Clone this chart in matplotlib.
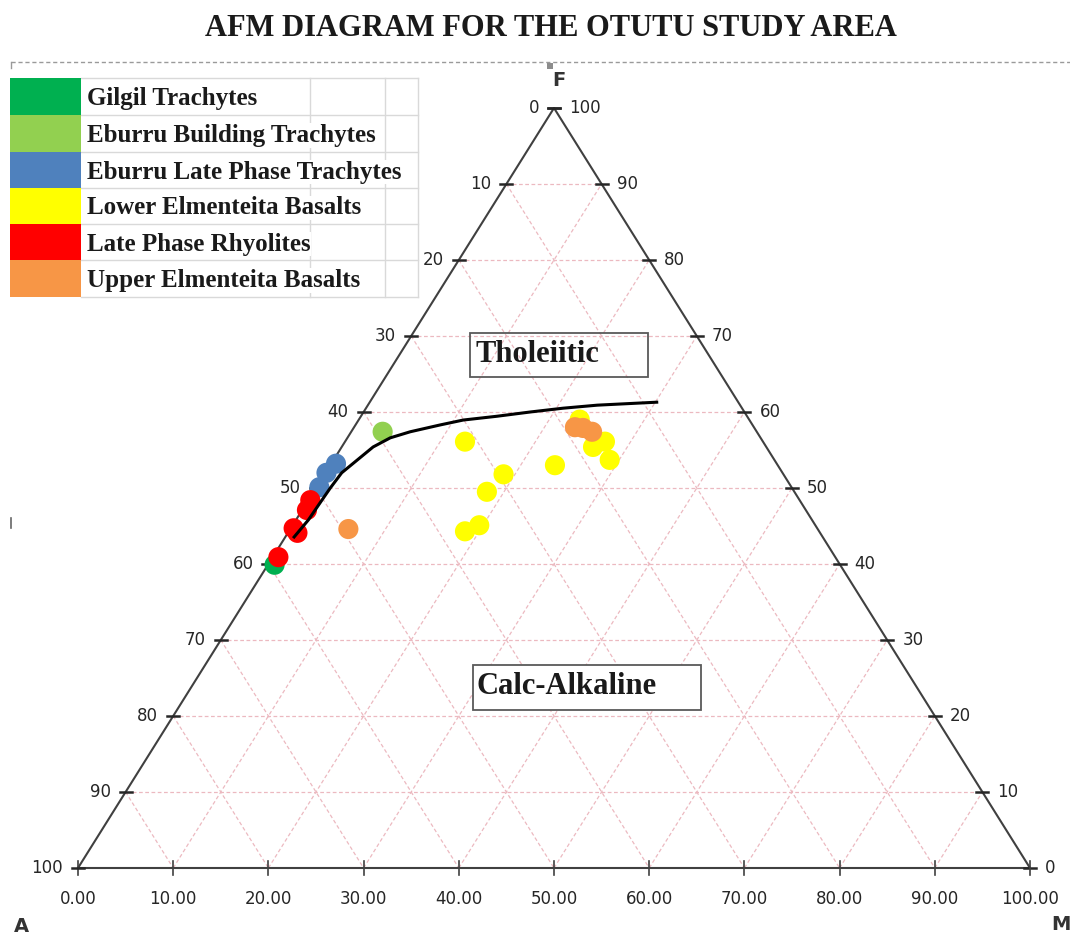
"""
AFM ternary diagram (A = Na2O+K2O, F = FeOt, M = MgO) for the Otutu samples
"""

import matplotlib.pyplot as plt
from matplotlib.patches import Rectangle

# sample compositions, percent A / F / M
groups = [
    "Gilgil Trachytes",
    "Eburru Building Trachytes",
    "Eburru Late Phase Trachytes",
    "Lower Elmenteita Basalts",
    "Late Phase Rhyolites",
    "Upper Elmenteita Basalts",
]
colors = ["#00b050", "#92d050", "#4f81bd", "#ffff00", "#ff0000", "#f79646"]

gilgil_A = [59.4]
gilgil_F = [39.9]
gilgil_M = [0.7]

eb_build_A = [39.3]
eb_build_F = [57.4]
eb_build_M = [3.3]

eb_late_A = [46.3, 47.9, 49.6]
eb_late_F = [53.2, 52.0, 50.1]
eb_late_M = [0.5, 0.1, 0.3]

lower_A = [31.3, 29.4, 32.3, 35.3, 37.2, 23.4, 17.3, 18.2, 16.6, 17.8]
lower_F = [56.1, 51.8, 49.5, 45.1, 44.3, 53.0, 53.7, 55.4, 56.1, 59.0]
lower_M = [12.6, 18.8, 18.2, 19.6, 18.5, 23.6, 29.0, 26.4, 27.3, 23.2]

rhyo_A = [51.4, 52.4, 55.0, 54.9, 58.5]
rhyo_F = [48.4, 47.1, 44.7, 44.1, 40.9]
rhyo_M = [0.2, 0.5, 0.3, 1.0, 0.6]

upper_A = [49.3, 18.8, 18.0, 17.3]
upper_F = [44.6, 58.0, 57.9, 57.4]
upper_M = [6.1, 23.2, 24.1, 25.3]

# tholeiitic / calc-alkaline dividing line
div_A = [55.7, 52.9, 50.6, 48.5, 46.3, 43.8, 41.3, 38.9, 36.4, 32.8, 30.1,
         26.3, 22.5, 18.8, 15.0, 11.7, 8.4]
div_F = [43.4, 45.8, 48.0, 50.0, 52.0, 53.7, 55.4, 56.6, 57.4, 58.3, 59.0,
         59.5, 60.0, 60.5, 60.9, 61.1, 61.3]
div_M = [0.9, 1.3, 1.4, 1.5, 1.7, 2.5, 3.3, 4.5, 6.2, 8.9, 11.0,
         14.3, 17.5, 20.7, 24.1, 27.2, 30.3]

ticks = [0, 10, 20, 30, 40, 50, 60, 70, 80, 90, 100]


def to_xy(a, f, m):
    """Ternary (A, F, M) -> plot x, y. A at left, M at right, F on top."""
    xs, ys = [], []
    for ai, fi, mi in zip(a, f, m):
        s = ai + fi + mi
        fi, mi = fi * 100.0 / s, mi * 100.0 / s
        xs.append(mi + fi / 2.0)
        ys.append(fi)
    return xs, ys


fig = plt.figure(figsize=(10.7, 9.38), dpi=100)
W, H = 1070, 938

# triangle axes: x 0..100 spans px 78..1030, y (F) 0..100 spans px 868..108
ax = fig.add_axes([78 / W, 70 / H, 952 / W, 760 / H])
ax.set_xlim(0, 100)
ax.set_ylim(0, 100)
ax.axis("off")

# pink grid parallel to the three sides
grid_kw = dict(color="#ecb9c0", lw=0.9, ls=(0, (3, 2)), zorder=1)
for v in ticks[1:-1]:
    x, y = to_xy([100 - v, 0], [v, v], [0, 100 - v])
    ax.plot(x, y, **grid_kw)
    x, y = to_xy([v, v], [100 - v, 0], [0, 100 - v])
    ax.plot(x, y, **grid_kw)
    x, y = to_xy([100 - v, 0], [0, 100 - v], [v, v])
    ax.plot(x, y, **grid_kw)

# triangle outline
x, y = to_xy([100, 0, 0, 100], [0, 0, 100, 0], [0, 100, 0, 0])
ax.plot(x, y, color="#404040", lw=1.5, zorder=2, clip_on=False)

lab_kw = dict(textcoords="offset pixels", fontsize=12, color="#262626",
              annotation_clip=False)
dx = 6 / 9.52
dy = 7 / 7.6
for v in ticks:
    # left side: A
    x, y = to_xy([v], [100 - v], [0])
    ax.plot([x[0] - dx, x[0] + dx], [y[0], y[0]], color="#262626", lw=1.8,
            clip_on=False, zorder=3)
    ax.annotate(str(v), (x[0], y[0]), xytext=(-15, 0), ha="right", va="center", **lab_kw)
    # right side: F
    x, y = to_xy([0], [v], [100 - v])
    ax.plot([x[0] - dx, x[0] + dx], [y[0], y[0]], color="#262626", lw=1.8,
            clip_on=False, zorder=3)
    ax.annotate(str(v), (x[0], y[0]), xytext=(15, 0), ha="left", va="center", **lab_kw)
    # base: M
    x, y = to_xy([100 - v], [0], [v])
    ax.plot([x[0], x[0]], [-dy, dy], color="#404040", lw=1.2, clip_on=False, zorder=3)
    ax.annotate("%.2f" % v, (x[0], 0), xytext=(0, -31), ha="center", va="center", **lab_kw)

# samples
data = [
    (gilgil_A, gilgil_F, gilgil_M),
    (eb_build_A, eb_build_F, eb_build_M),
    (eb_late_A, eb_late_F, eb_late_M),
    (lower_A, lower_F, lower_M),
    (rhyo_A, rhyo_F, rhyo_M),
    (upper_A, upper_F, upper_M),
]
for i, (a, f, m) in enumerate(data):
    x, y = to_xy(a, f, m)
    ax.scatter(x, y, s=210, color=colors[i], edgecolors="none", zorder=4 + i,
               clip_on=False)

x, y = to_xy(div_A, div_F, div_M)
ax.plot(x, y, color="black", lw=2.2, zorder=12, solid_capstyle="butt",
        solid_joinstyle="round")

# overlay in pixel coordinates for title, legend table and labels
ov = fig.add_axes([0, 0, 1, 1])
ov.set_xlim(0, W)
ov.set_ylim(H, 0)
ov.axis("off")
ov.patch.set_alpha(0)

serif = "Liberation Serif"
ov.text(551, 28, "AFM DIAGRAM FOR THE OTUTU STUDY AREA", ha="center", va="center",
        fontsize=22, fontweight="bold", family=serif, color="#1a1a1a")

# dashed plot-area border at the top
ov.plot([11, W], [62, 62], color="#9a9a9a", lw=1, ls=(0, (3, 2)))
ov.plot([11, 11], [62, 68], color="#9a9a9a", lw=1)
ov.plot([11, 11], [518, 528], color="#666666", lw=1.2)
ov.add_patch(Rectangle((547, 63), 6, 6, color="#8c8c8c", lw=0))

# vertex labels
vert_kw = dict(fontsize=14, fontweight="bold", color="#333333", ha="center", va="center")
ov.text(559, 80, "F", **vert_kw)
ov.text(21, 927, "A", **vert_kw)
ov.text(1061, 925, "M", **vert_kw)

# legend laid out like a spreadsheet block
rows = [78, 115, 152, 188, 224, 260, 297]
for yv in rows:
    ov.plot([81, 418], [yv, yv], color="#d9d9d9", lw=1, zorder=1)
for xv in [310, 385, 418]:
    ov.plot([xv, xv], [rows[0], rows[-1]], color="#d9d9d9", lw=1, zorder=1)
for i, name in enumerate(groups):
    top, bot = rows[i], rows[i + 1]
    ov.add_patch(Rectangle((10, top), 71, bot - top, color=colors[i], lw=0, zorder=2))
    ov.text(87, (top + bot) / 2 + 2, name, ha="left", va="center", fontsize=18,
            fontweight="bold", family=serif, color="#1a1a1a", zorder=3,
            bbox=dict(fc="white", ec="none", pad=0.5))

# field labels
ov.add_patch(Rectangle((470, 333), 178, 44, fill=False, ec="#595959", lw=1.3, zorder=5))
ov.text(475, 354, "Tholeiitic", ha="left", va="center", fontsize=22,
        fontweight="bold", family=serif, color="#1a1a1a", zorder=6)
ov.add_patch(Rectangle((473, 665), 228, 45, fc="white", ec="#595959", lw=1.3, zorder=5))
ov.text(477, 686, "Calc-Alkaline", ha="left", va="center", fontsize=22,
        fontweight="bold", family=serif, color="#1a1a1a", zorder=6)

fig.savefig("out.png", dpi=100)
